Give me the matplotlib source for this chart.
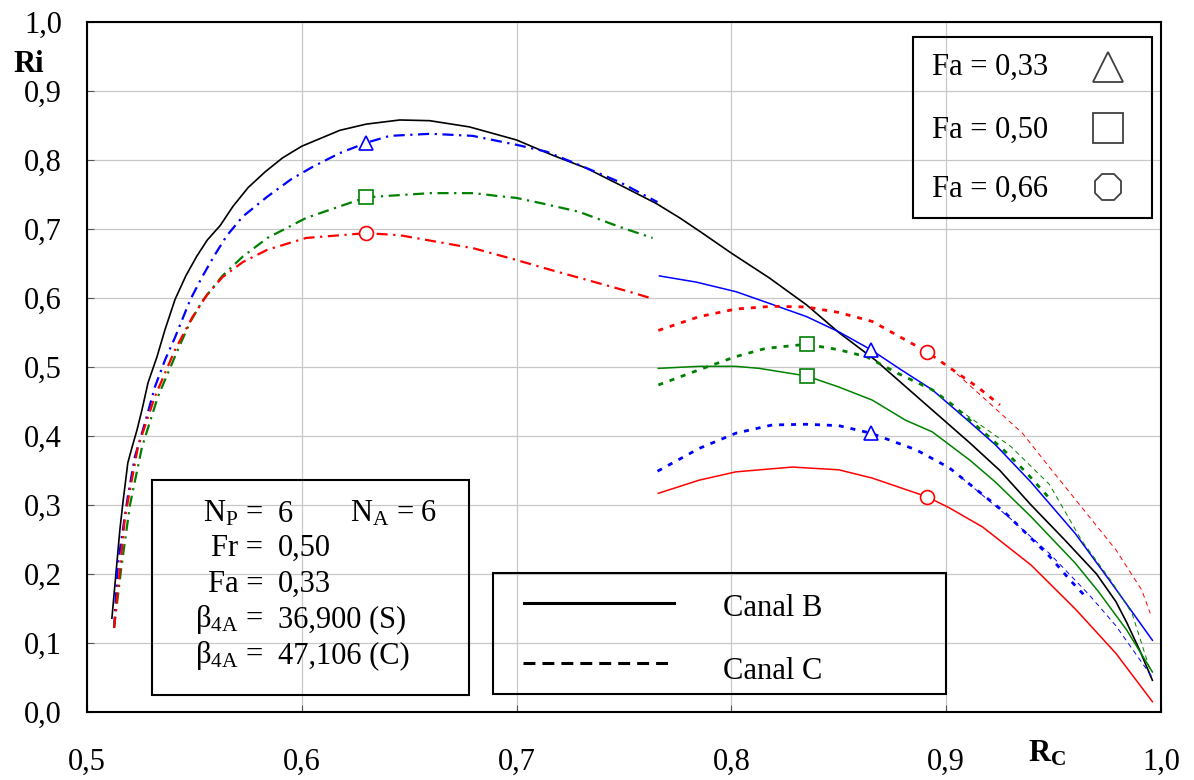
import matplotlib
matplotlib.use("Agg")
import matplotlib.pyplot as plt
from matplotlib.patches import Rectangle
from matplotlib.lines import Line2D
from matplotlib.ticker import FuncFormatter, MultipleLocator

# ---- data -----------------------------------------------------------------
# Canal B, black full curve
x_black = [0.5116, 0.5153, 0.5167, 0.519, 0.521, 0.5233, 0.5256, 0.5284, 0.5326,
           0.5363, 0.541, 0.546, 0.551, 0.556, 0.562, 0.568, 0.575, 0.583, 0.591,
           0.600, 0.6177, 0.630, 0.6456, 0.6595, 0.678, 0.700, 0.7167, 0.7326, 0.748,
           0.765, 0.776, 0.7865, 0.800, 0.8177, 0.835, 0.850, 0.867, 0.900, 0.911,
           0.925, 0.9395, 0.955, 0.970, 0.979, 0.984, 0.990, 0.996]
y_black = [0.136, 0.264, 0.303, 0.361, 0.384, 0.409, 0.438, 0.477, 0.515,
           0.554, 0.598, 0.632, 0.66, 0.684, 0.705, 0.733, 0.76, 0.783, 0.803,
           0.82, 0.843, 0.852, 0.858, 0.857, 0.848, 0.829, 0.807, 0.788, 0.764,
           0.737, 0.716, 0.694, 0.665, 0.629, 0.59, 0.55, 0.51, 0.42, 0.39,
           0.35, 0.30, 0.25, 0.20, 0.16, 0.13, 0.09, 0.046]

# left branch (dash-dot), Fa = 0.33 / 0.50 / 0.66
x_blue_dd = [0.5126, 0.5144, 0.519, 0.5223, 0.527, 0.5316, 0.5363, 0.541, 0.548, 0.5535,
             0.559, 0.565, 0.5725, 0.584, 0.595, 0.605, 0.6177, 0.630, 0.641, 0.660,
             0.6795, 0.700, 0.714, 0.729, 0.748, 0.7656]
y_blue_dd = [0.122, 0.216, 0.312, 0.37, 0.419, 0.471, 0.51, 0.543, 0.597, 0.63,
             0.66, 0.69, 0.718, 0.747, 0.772, 0.79, 0.81, 0.825, 0.835, 0.838,
             0.835, 0.822, 0.812, 0.793, 0.768, 0.739]
x_green_dd = [0.5126, 0.516, 0.520, 0.5256, 0.533, 0.5423, 0.548, 0.554, 0.563, 0.5725,
              0.584, 0.602, 0.630, 0.660, 0.680, 0.6907, 0.700, 0.712, 0.729, 0.748, 0.7633]
y_green_dd = [0.122, 0.21, 0.30, 0.384, 0.457, 0.525, 0.565, 0.597, 0.632, 0.66,
              0.687, 0.716, 0.746, 0.752, 0.752, 0.748, 0.745, 0.737, 0.725, 0.703, 0.687]
x_red_dd = [0.5126, 0.5177, 0.5237, 0.5316, 0.541, 0.5456, 0.549, 0.556, 0.563, 0.5725,
            0.584, 0.602, 0.630, 0.6456, 0.680, 0.700, 0.7167, 0.7353, 0.7526, 0.7633]
y_red_dd = [0.122, 0.283, 0.384, 0.457, 0.525, 0.552, 0.572, 0.605, 0.63, 0.652,
            0.67, 0.687, 0.694, 0.691, 0.672, 0.655, 0.64, 0.624, 0.609, 0.599]

# right branch, solid lines
x_blue_s = [0.7665, 0.7837, 0.8023, 0.816, 0.835, 0.850, 0.865, 0.878, 0.8935, 0.911,
            0.923, 0.9395, 0.960, 0.976, 0.996]
y_blue_s = [0.632, 0.623, 0.609, 0.594, 0.573, 0.551, 0.525, 0.498, 0.467, 0.42,
            0.387, 0.333, 0.259, 0.191, 0.104]
x_green_s = [0.766, 0.785, 0.802, 0.813, 0.835, 0.850, 0.8656, 0.881, 0.8935, 0.911,
             0.923, 0.9395, 0.960, 0.971, 0.984, 0.996]
y_green_s = [0.498, 0.501, 0.501, 0.498, 0.487, 0.471, 0.452, 0.423, 0.406, 0.365,
             0.333, 0.283, 0.216, 0.174, 0.119, 0.058]
x_red_s = [0.766, 0.785, 0.802, 0.8284, 0.850, 0.8656, 0.891, 0.9014, 0.917, 0.9395,
           0.9605, 0.979, 0.996]
y_red_s = [0.317, 0.336, 0.348, 0.355, 0.351, 0.339, 0.312, 0.296, 0.268, 0.213,
           0.148, 0.085, 0.015]

# right branch, dotted lines
x_blue_dot = [0.7656, 0.785, 0.802, 0.819, 0.835, 0.850, 0.865, 0.886, 0.9014, 0.923,
              0.928, 0.948, 0.958, 0.9656]
y_blue_dot = [0.349, 0.382, 0.404, 0.416, 0.417, 0.415, 0.404, 0.38, 0.354, 0.30,
              0.287, 0.226, 0.19, 0.165]
x_green_dot = [0.766, 0.785, 0.802, 0.816, 0.835, 0.850, 0.8628, 0.878, 0.8935, 0.903,
               0.926, 0.937, 0.948]
y_green_dot = [0.474, 0.496, 0.515, 0.527, 0.533, 0.525, 0.515, 0.49, 0.467, 0.445,
               0.382, 0.348, 0.31]
x_red_dot = [0.766, 0.785, 0.802, 0.819, 0.835, 0.850, 0.8656, 0.891, 0.903, 0.915, 0.925]
y_red_dot = [0.553, 0.573, 0.584, 0.588, 0.587, 0.579, 0.566, 0.522, 0.496, 0.47, 0.445]

# thin dashed tails
x_blue_thin = [0.907, 0.93, 0.948, 0.9665, 0.979, 0.996]
y_blue_thin = [0.34, 0.28, 0.23, 0.17, 0.125, 0.05]
x_green_thin = [0.906, 0.93, 0.948, 0.963, 0.977, 0.9865, 0.995]
y_green_thin = [0.438, 0.385, 0.33, 0.249, 0.189, 0.143, 0.06]
x_red_thin = [0.905, 0.92, 0.9355, 0.948, 0.963, 0.979, 0.991, 0.995]
y_red_thin = [0.49, 0.448, 0.404, 0.355, 0.297, 0.235, 0.177, 0.143]

# markers (blue, green, red)
mark_x_left = [0.630, 0.630, 0.630]
mark_y_left = [0.825, 0.746, 0.694]
mark_x_solid = [0.865, 0.835, 0.891]
mark_y_solid = [0.525, 0.487, 0.312]
mark_x_dot = [0.865, 0.835, 0.891]
mark_y_dot = [0.404, 0.533, 0.522]

fa_labels = ["Fa = 0,33", "Fa = 0,50", "Fa = 0,66"]
canal_labels = ["Canal B", "Canal C"]

# ---- style -----------------------------------------------------------------
plt.rcParams["font.family"] = ["Liberation Serif", "DejaVu Serif"]
plt.rcParams["mathtext.fontset"] = "custom"
plt.rcParams["mathtext.rm"] = "Liberation Serif"
plt.rcParams["mathtext.it"] = "Liberation Serif:italic"
plt.rcParams["mathtext.bf"] = "Liberation Serif:bold"

FS = 22
W, H = 1194, 780
BLUE, GREEN, RED = "#0000ff", "#008000", "#ff0000"


def fx(px):
    return px / W


def fy(py):
    return 1 - py / H


fig = plt.figure(figsize=(W / 100, H / 100), dpi=100)
ax = fig.add_axes([fx(87), fy(712), (1161 - 87) / W, (712 - 22) / H])

dashdot = (0, (5, 2.5, 1, 2.5))
dotted = (0, (1.8, 2.5))
thin = (0, (5, 4))

ax.plot(x_black, y_black, color="black", lw=1.2, zorder=3)

for xs, ys, c in [(x_blue_dd, y_blue_dd, BLUE), (x_green_dd, y_green_dd, GREEN),
                  (x_red_dd, y_red_dd, RED)]:
    ax.plot(xs, ys, color=c, lw=1.6, ls=dashdot, zorder=3)

for xs, ys, c in [(x_blue_s, y_blue_s, BLUE), (x_green_s, y_green_s, GREEN),
                  (x_red_s, y_red_s, RED)]:
    ax.plot(xs, ys, color=c, lw=1.1, zorder=3)

for xs, ys, c in [(x_blue_dot, y_blue_dot, BLUE), (x_green_dot, y_green_dot, GREEN),
                  (x_red_dot, y_red_dot, RED)]:
    ax.plot(xs, ys, color=c, lw=2.0, ls=dotted, zorder=3)

for xs, ys, c in [(x_blue_thin, y_blue_thin, BLUE), (x_green_thin, y_green_thin, GREEN),
                  (x_red_thin, y_red_thin, RED)]:
    ax.plot(xs, ys, color=c, lw=0.7, ls=thin, zorder=3)

markers = ["^", "s", "o"]
colors = [BLUE, GREEN, RED]
for i in range(3):
    for mx, my in [(mark_x_left, mark_y_left), (mark_x_solid, mark_y_solid),
                   (mark_x_dot, mark_y_dot)]:
        ax.plot(mx[i], my[i], marker=markers[i], ms=10, mfc="white", mec=colors[i],
                mew=1.2, ls="none", zorder=5)

# axes
ax.set_xlim(0.5, 1.0)
ax.set_ylim(0.0, 1.0)
ax.xaxis.set_major_locator(MultipleLocator(0.1))
ax.yaxis.set_major_locator(MultipleLocator(0.1))
comma = FuncFormatter(lambda v, p: f"{v:.1f}".replace(".", ","))
ax.xaxis.set_major_formatter(comma)
ax.yaxis.set_major_formatter(comma)
ax.grid(True, color="#c8c8c8", lw=0.9)
ax.set_axisbelow(True)
ax.tick_params(direction="in", length=5, width=0.8, color="#555555", labelsize=FS)
ax.tick_params(axis="x", pad=26)
ax.tick_params(axis="y", pad=18)
for sp in ax.spines.values():
    sp.set_linewidth(1.5)

fig.text(fx(13), fy(72), "Ri", fontsize=FS, fontweight="bold", va="baseline")
fig.text(fx(1028), fy(762), r"$\mathbf{R}_{\mathbf{C}}$", fontsize=FS, va="baseline")

# parameter box
fig.add_artist(Rectangle((fx(152), fy(695)), (469 - 152) / W, (695 - 480) / H,
                         transform=fig.transFigure, fill=False, ec="black", lw=1.5))
rows = [
    (522, r"N$_{\rm P}$ =", "6"),
    (556, "Fr =", "0,50"),
    (592, "Fa =", "0,33"),
    (627, r"β$_{\rm 4A}$ =", "36,900 (S)"),
    (663, r"β$_{\rm 4A}$ =", "47,106 (C)"),
]
for base, lab, val in rows:
    fig.text(fx(263), fy(base), lab, fontsize=FS, ha="right", va="baseline")
    fig.text(fx(278), fy(base), val, fontsize=FS, ha="left", va="baseline")
fig.text(fx(350), fy(522), r"N$_{\rm A}$ = 6", fontsize=FS, ha="left", va="baseline")

# Canal legend box
fig.add_artist(Rectangle((fx(493), fy(694)), (946 - 493) / W, (694 - 573) / H,
                         transform=fig.transFigure, fill=False, ec="black", lw=1.5))
fig.add_artist(Line2D([fx(524), fx(674)], [fy(603), fy(603)], transform=fig.transFigure,
                      color="black", lw=2.2))
fig.add_artist(Line2D([fx(523), fx(672)], [fy(663), fy(663)], transform=fig.transFigure,
                      color="black", lw=2.2, ls=(0, (3.9, 2.3))))
fig.text(fx(723), fy(616), canal_labels[0], fontsize=FS, va="baseline")
fig.text(fx(723), fy(679), canal_labels[1], fontsize=FS, va="baseline")

# Fa legend box
fig.add_artist(Rectangle((fx(913), fy(218)), (1152 - 913) / W, (218 - 37) / H,
                         transform=fig.transFigure, fill=False, ec="black", lw=1.5,
                         facecolor="white"))
fa_base = [75, 138, 197]
fa_mark_y = [67, 128, 187]
fa_markers = ["^", "s", "8"]
for lab, b, my, mk in zip(fa_labels, fa_base, fa_mark_y, fa_markers):
    fig.text(fx(932), fy(b), lab, fontsize=FS, va="baseline")
    fig.add_artist(Line2D([fx(1108)], [fy(my)], transform=fig.transFigure, marker=mk,
                          ms=21, mfc="none", mec="#404040", mew=1.3, ls="none"))

fig.savefig("out.png", dpi=100)
